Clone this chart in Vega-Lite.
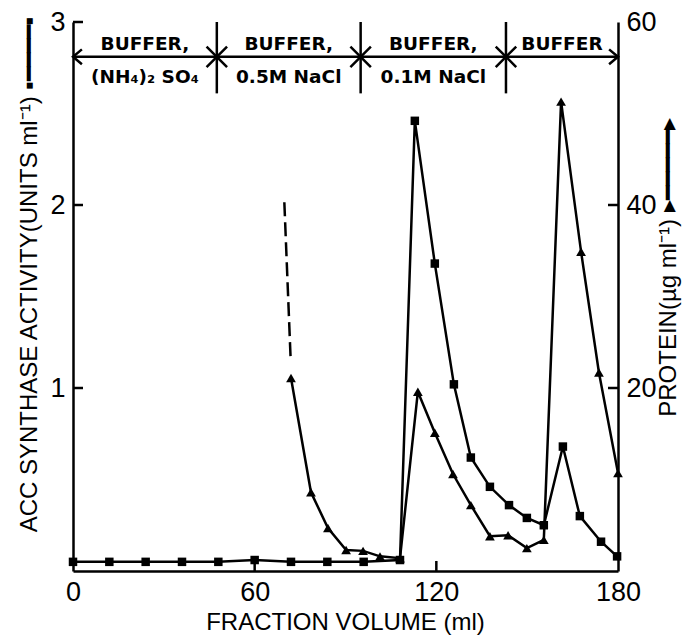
{
  "$schema": "https://vega.github.io/schema/vega-lite/v6.json",
  "width": 545,
  "height": 549,
  "autosize": {"type": "none"},
  "padding": {"left": 73, "top": 22, "right": 69, "bottom": 64},
  "background": "white",
  "config": {
    "view": {"stroke": null},
    "axis": {
      "grid": false,
      "ticks": false,
      "domainColor": "black",
      "domainWidth": 2.5,
      "labelPadding": 8,
      "labelFlush": false,
      "labelColor": "black",
      "titleColor": "black",
      "labelFont": "Liberation Sans",
      "titleFont": "Liberation Sans",
      "labelFontSize": 27,
      "titleFontSize": 24,
      "titleFontWeight": "normal"
    }
  },
  "datasets": {
    "activity": [
      {"x": 0, "v": 0.05}, {"x": 12, "v": 0.05}, {"x": 24, "v": 0.05}, {"x": 36, "v": 0.05},
      {"x": 48, "v": 0.05}, {"x": 60, "v": 0.06}, {"x": 72, "v": 0.05}, {"x": 84, "v": 0.05},
      {"x": 96, "v": 0.05}, {"x": 108, "v": 0.06}, {"x": 112.9, "v": 2.46}, {"x": 119.5, "v": 1.68},
      {"x": 125.8, "v": 1.02}, {"x": 131.4, "v": 0.62}, {"x": 137.7, "v": 0.46}, {"x": 144, "v": 0.36},
      {"x": 149.9, "v": 0.29}, {"x": 155.5, "v": 0.25}, {"x": 161.8, "v": 0.68}, {"x": 167.4, "v": 0.3},
      {"x": 174.4, "v": 0.16}, {"x": 179.7, "v": 0.08}
    ],
    "protein": [
      {"x": 72.0, "p": 21.1}, {"x": 78.6, "p": 8.6}, {"x": 84.2, "p": 4.7}, {"x": 90.2, "p": 2.3},
      {"x": 95.8, "p": 2.2}, {"x": 101.4, "p": 1.6}, {"x": 108, "p": 1.4}, {"x": 113.9, "p": 19.6},
      {"x": 119.5, "p": 15.1}, {"x": 125.5, "p": 10.6}, {"x": 131.4, "p": 7.2}, {"x": 137.7, "p": 3.8},
      {"x": 143.7, "p": 3.9}, {"x": 149.9, "p": 2.5}, {"x": 155.5, "p": 3.4}, {"x": 161.2, "p": 51.3},
      {"x": 167.8, "p": 34.9}, {"x": 173.7, "p": 21.7}, {"x": 180, "p": 10.7}
    ],
    "proteinDash": [
      {"x": 69.8, "p": 40.3}, {"x": 71.9, "p": 23.0}
    ],
    "bandLine": [{"x": 0, "x2": 180, "v": 2.81}],
    "separators": [{"x": 47.5, "v": 2.61, "v2": 3.0}, {"x": 95, "v": 2.61, "v2": 3.0}, {"x": 143, "v": 2.61, "v2": 3.0}],
    "crosses": [{"x": 47.5, "v": 2.81}, {"x": 95, "v": 2.81}, {"x": 143, "v": 2.81}],
    "leftArrow": [{"x": 0, "v": 2.81}],
    "rightArrow": [{"x": 180, "v": 2.81}],
    "bottomTicks": [{"x": 60, "v": 0.0275}, {"x": 120, "v": 0.0275}],
    "leftTicks": [{"x": 1.65, "v": 1}, {"x": 1.65, "v": 2}, {"x": 1.65, "v": 3}],
    "rightTicks": [{"x": 178.35, "p": 20}, {"x": 178.35, "p": 40}],
    "labels": [
      {"x": 23.75, "v": 2.88, "label": "BUFFER,"},
      {"x": 23.75, "v": 2.70, "label": "(NH₄)₂ SO₄"},
      {"x": 71.25, "v": 2.88, "label": "BUFFER,"},
      {"x": 71.25, "v": 2.70, "label": "0.5M NaCl"},
      {"x": 119, "v": 2.88, "label": "BUFFER,"},
      {"x": 119, "v": 2.70, "label": "0.1M NaCl"},
      {"x": 161.5, "v": 2.88, "label": "BUFFER"}
    ]
  },
  "encoding": {
    "x": {
      "field": "x",
      "type": "quantitative",
      "scale": {"domain": [0, 180], "nice": false, "zero": false},
      "axis": {
        "values": [0, 60, 120, 180],
        "title": "FRACTION VOLUME (ml)",
        "titleX": 272,
        "titleY": 58,
        "titleBaseline": "alphabetic"
      }
    }
  },
  "layer": [
    {
      "encoding": {
        "y": {
          "field": "v",
          "type": "quantitative",
          "scale": {"domain": [0, 3], "nice": false},
          "axis": {
            "orient": "left",
            "values": [1, 2, 3],
            "title": "ACC SYNTHASE ACTIVITY(UNITS ml⁻¹)   ▪━━━━▪",
            "titleX": -44,
            "titleY": 252,
            "titleBaseline": "middle",
            "titleAngle": -90
          }
        }
      },
      "layer": [
        {
          "data": {"name": "activity"},
          "mark": {"type": "line", "stroke": "black", "strokeWidth": 2.5}
        },
        {
          "data": {"name": "activity"},
          "mark": {"type": "point", "shape": "square", "filled": true, "color": "black", "size": 72, "opacity": 1}
        },
        {
          "data": {"name": "separators"},
          "mark": {"type": "rule", "stroke": "black", "strokeWidth": 2.5},
          "encoding": {"y2": {"field": "v2"}}
        },
        {
          "data": {"name": "bandLine"},
          "mark": {"type": "rule", "stroke": "black", "strokeWidth": 2.5},
          "encoding": {"x2": {"field": "x2"}}
        },
        {
          "data": {"name": "crosses"},
          "mark": {"type": "point", "shape": "M-1,-1L1,1M-1,1L1,-1", "filled": false, "stroke": "black", "strokeWidth": 2.5, "size": 420, "opacity": 1}
        },
        {
          "data": {"name": "leftArrow"},
          "mark": {"type": "point", "shape": "M1.2,-1L0,0L1.2,1", "filled": false, "stroke": "black", "strokeWidth": 2.5, "size": 220, "opacity": 1}
        },
        {
          "data": {"name": "rightArrow"},
          "mark": {"type": "point", "shape": "M-1.2,-1L0,0L-1.2,1", "filled": false, "stroke": "black", "strokeWidth": 2.5, "size": 220, "opacity": 1}
        },
        {
          "data": {"name": "bottomTicks"},
          "mark": {"type": "tick", "orient": "vertical", "size": 10, "thickness": 2.5, "color": "black", "opacity": 1}
        },
        {
          "data": {"name": "leftTicks"},
          "mark": {"type": "tick", "orient": "horizontal", "size": 10, "thickness": 2.5, "color": "black", "opacity": 1}
        },
        {
          "data": {"name": "labels"},
          "mark": {"type": "text", "font": "DejaVu Sans", "fontWeight": "bold", "fontSize": 18.5, "color": "black", "baseline": "middle", "align": "center"},
          "encoding": {"text": {"field": "label"}}
        }
      ]
    },
    {
      "encoding": {
        "y": {
          "field": "p",
          "type": "quantitative",
          "scale": {"domain": [0, 60], "nice": false},
          "axis": {
            "orient": "right",
            "values": [20, 40, 60],
            "title": "PROTEIN(µg ml⁻¹)   ▸━━━━━▸",
            "titleX": 50,
            "titleY": 245,
            "titleBaseline": "middle",
            "titleAngle": -90
          }
        }
      },
      "layer": [
        {
          "data": {"name": "protein"},
          "mark": {"type": "line", "stroke": "black", "strokeWidth": 2.5}
        },
        {
          "data": {"name": "protein"},
          "mark": {"type": "point", "shape": "triangle-up", "filled": true, "color": "black", "size": 95, "opacity": 1}
        },
        {
          "data": {"name": "proteinDash"},
          "mark": {"type": "line", "stroke": "black", "strokeWidth": 2.5, "strokeDash": [14, 6]}
        },
        {
          "data": {"name": "rightTicks"},
          "mark": {"type": "tick", "orient": "horizontal", "size": 10, "thickness": 2.5, "color": "black", "opacity": 1}
        }
      ]
    }
  ],
  "resolve": {"scale": {"y": "independent"}}
}
